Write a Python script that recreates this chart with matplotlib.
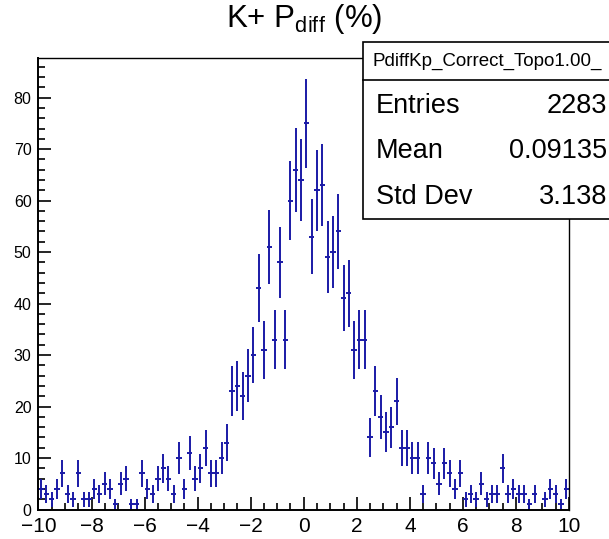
import numpy as np
import matplotlib

matplotlib.use("Agg")
import matplotlib.pyplot as plt
from matplotlib.patches import Rectangle
from matplotlib.ticker import MultipleLocator, FuncFormatter

plt.rcParams["font.family"] = ["Liberation Sans", "DejaVu Sans"]

# 100 bins from -10 to 10
bin_lo, bin_hi, n_bins = -10.0, 10.0, 100
counts = [
    4, 3, 2, 4, 7, 3, 2, 7, 2, 2,
    4, 3, 5, 4, 1, 5, 6, 1, 1, 7,
    4, 3, 6, 8, 6, 3, 10, 4, 11, 6,
    8, 12, 7, 7, 10, 13, 23, 24, 22, 26,
    30, 43, 31, 51, 33, 48, 33, 60, 66, 64,
    75, 53, 62, 63, 49, 50, 54, 41, 42, 31,
    33, 33, 14, 23, 18, 15, 16, 21, 12, 12,
    10, 10, 3, 10, 9, 5, 9, 7, 4, 7,
    2, 3, 2, 5, 2, 3, 3, 8, 3, 4,
    3, 3, 1, 3, 0, 2, 4, 3, 1, 4,
]
hist_name = "PdiffKp_Correct_Topo1.00_"
stat_labels = ["Entries", "Mean", "Std Dev"]
stat_values = ["2283", "0.09135", "3.138"]

edges = np.linspace(bin_lo, bin_hi, n_bins + 1)
centers = 0.5 * (edges[:-1] + edges[1:])
half_w = 0.5 * (edges[1] - edges[0])
y = np.array(counts, dtype=float)
keep = y > 0  # empty bins are not drawn

fig = plt.figure(figsize=(6.09, 5.39), dpi=100)
ax = fig.add_axes([0.0632, 0.0547, 0.8711, 0.8377])

blue = "#1a1aa6"
ax.errorbar(centers[keep], y[keep], yerr=np.sqrt(y[keep]), xerr=half_w,
            fmt="none", ecolor=blue, elinewidth=1.4, capsize=0)

ax.set_xlim(bin_lo, bin_hi)
ax.set_ylim(0, 87.7)
ax.xaxis.set_major_locator(MultipleLocator(2))
ax.xaxis.set_minor_locator(MultipleLocator(0.5))
ax.yaxis.set_major_locator(MultipleLocator(10))
ax.yaxis.set_minor_locator(MultipleLocator(2))
ax.xaxis.set_major_formatter(FuncFormatter(lambda v, p: f"{v:.0f}".replace("-", "\u2212")))
ax.tick_params(which="both", direction="in", top=False, right=False, width=1.2)
ax.tick_params(which="major", length=9.5)
ax.tick_params(which="minor", length=5)
ax.tick_params(axis="x", labelsize=15, pad=5.5)
ax.tick_params(axis="y", labelsize=11.5, pad=5)
for sp in ax.spines.values():
    sp.set_linewidth(1.0)
ax.spines["left"].set_linewidth(1.4)
ax.spines["bottom"].set_linewidth(1.4)

fig.text(0.5, 0.964, r"K+ P$_{\mathregular{diff}}$ (%)", ha="center", va="center", fontsize=22.5)

# stats box (cut off by the right edge, like the original)
bx0, by0, by1 = 363 / 609, 1 - 219 / 539, 1 - 42 / 539
div_y = 1 - 80 / 539
fig.patches.append(Rectangle((bx0, by0), 0.5, by1 - by0, transform=fig.transFigure,
                             facecolor="white", edgecolor="black", linewidth=1.2))
fig.add_artist(plt.Line2D([bx0, 1.2], [div_y, div_y], transform=fig.transFigure,
                          color="black", linewidth=1.2))
fig.text(372 / 609, 1 - 61 / 539, hist_name, ha="left", va="center", fontsize=13.5)
for i, (lab, val) in enumerate(zip(stat_labels, stat_values)):
    yy = 1 - (106 + 45.5 * i) / 539
    fig.text(376 / 609, yy, lab, ha="left", va="center", fontsize=19.5)
    fig.text(607 / 609, yy, val, ha="right", va="center", fontsize=19.5)

fig.savefig("out.png", dpi=100)
